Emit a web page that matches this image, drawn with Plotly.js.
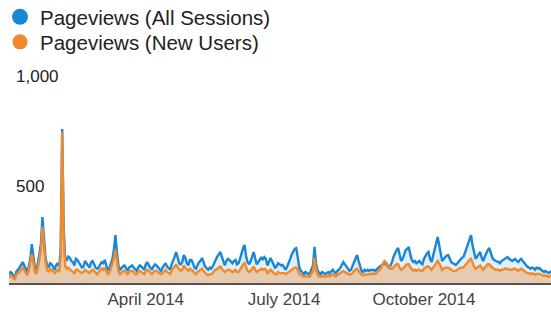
<!DOCTYPE html>
<html>
<head>
<meta charset="utf-8">
<script src="https://cdn.plot.ly/plotly-3.0.1.min.js"></script>
<style>html,body{margin:0;padding:0;background:#fff;}#chart{width:551px;height:316px;}</style>
</head>
<body>
<div id="chart"></div>
<script>
// First day of the daily series
var startDate = '2014-01-01';

// Pageviews (All Sessions), one value per day
var allSessions = [
  35,50,45,30,28,55,60, 70,85,95,80,60,50,75, 110,177,120,70,55,90,130, 180,300,210,120,80,70,90, 85,75,60,
  80,90,75,150,700,250,110, 105,120,115,100,95,80,110, 105,95,85,70,75,100,90, 80,70,95,100,85,70,65,
  70,85,95,90,105,80,60, 65,90,110,150,218,140,80, 60,70,75,80,65,55,70, 75,80,70,60,55,70,80, 75,65,60,
  85,95,80,70,60,75,85, 80,70,65,55,70,80,90, 75,65,60,85,100,120,140, 110,90,85,95,127,115,90, 80,105,
  105,90,70,65,80,95,100, 114,95,75,68,60,70,65, 75,90,110,120,130,141,120, 95,80,100,110,105,95,90, 100,105,85,
  90,110,140,160,173,120,95, 85,100,125,141,110,85,95, 110,118,105,118,110,80,95, 114,100,85,70,75,90,85, 80,82,
  70,60,75,90,110,130,145,155,159,120,70, 55,45,40,50,45,40,45, 60,80,164,90,55, 45,40,50,45,40,45,
  50,45,55,60,50,45,55, 60,70,80,95,85,75,60, 55,60,75,95,110,127,100, 70,55,50,60,55,60,55,60,58,
  60,55,65,70,75,80, 85,90,85,75,70, 80,95,120,140,150, 159, 120,100,110, 130,150,155, 164, 130,105,95, 100,90,95,
  100,90,85,110,125,135, 141, 110,95,120,150,180, 209, 170,120,100,110,120,125, 127, 110,95,90,85, 82, 90,100,110,115, 118, 140,
  160,185,200, 218, 170,130,110,120,130, 141, 115,100,120,140,150, 159, 130,115,105,100,98, 95, 90,100,105,110,115, 118, 110,105,
  100,105,110,100,95,105,110,100,90, 80,75,70,65,70,68,60,70,65,68,60, 55,50,55,48,45,50,55,48,45,50,52, 50,48,45
];

// Pageviews (New Users), one value per day
var newUsers = [
  25,35,30,20,18,40,45, 50,60,70,60,45,35,55, 85,130,95,50,40,70,105, 150,255,175,95,60,50,65, 60,55,45,
  55,60,50,120,686,200,75, 65,70,60,55,50,45,60, 60,55,50,45,50,60,55, 50,45,55,60,55,45,40,
  50,60,65,60,70,55,40, 45,65,80,110,150,100,55, 40,50,55,55,45,40,50, 55,55,50,40,40,50,55, 50,45,40,
  55,60,55,45,40,50,55, 55,50,45,40,45,55,60, 50,45,40,55,65,75,85, 70,60,55,60,80,70,60, 55,65,
  60,55,45,40,50,55,60, 65,55,45,40,35,40,40, 45,55,60,65,70,75,65, 55,50,55,60,60,55,50, 55,60,50,
  50,60,75,85,90,70,55, 50,55,65,75,60,50,55, 60,65,60,65,60,45,50, 60,55,45,40,40,50,45, 45,45,
  45,40,45,50,55,60,65,70,70,60,40, 35,30,28,32,30,28,30, 40,55,114,60,38, 30,28,32,30,28,30,
  35,30,38,40,35,30,38, 40,45,50,55,50,45,40, 38,40,45,55,60,65,55, 45,38,35,40,38,40,40,42,40,
  45,40,50,55,60,70, 90,100,95,85,75, 65,65,75,80,85, 85, 70,60,65, 75,80,85, 85, 70,60,55, 60,55,60,
  60,55,55,65,70,75, 75, 65,60,70,80,90, 100, 90,70,60,65,70,70, 70, 65,60,55,55, 55, 60,65,70,70, 70, 80,
  90,100,105, 110, 90,75,65,70,75, 80, 70,60,70,80,85, 85, 75,70,65,60,60, 60, 55,60,60,65,65, 65, 60,60,
  60,65,65,60,55,60,65,60,55, 50,45,45,40,45,42,38,42,40,42,38, 35,32,35,30,28,32,35,30,28,32,35, 32,30,28
];

var seriesNames = ['Pageviews (All Sessions)', 'Pageviews (New Users)'];
var tickDates = ['2014-04-01', '2014-07-01', '2014-10-01'];
var tickLabels = ['April 2014', 'July 2014', 'October 2014'];
var yTickVals = [500, 1000];
var yTickLabels = ['500', '1,000'];

function buildDates(start, n) {
  var out = [];
  var d0 = new Date(start + 'T00:00:00Z');
  for (var i = 0; i < n; i++) {
    var d = new Date(d0.getTime() + i * 86400000);
    out.push(d.toISOString().slice(0, 10));
  }
  return out;
}
var dates = buildDates(startDate, allSessions.length);

var blue = '#1a87d6';
var orange = '#f08a2c';

var traces = [
  {x: dates, y: allSessions, type: 'scatter', mode: 'lines', fill: 'tozeroy',
   line: {color: blue, width: 2.4, shape: 'linear'}, fillcolor: 'rgba(26,135,214,0.13)',
   showlegend: false, hoverinfo: 'skip'},
  {x: dates, y: newUsers, type: 'scatter', mode: 'lines', fill: 'tozeroy',
   line: {color: orange, width: 2.4, shape: 'linear'}, fillcolor: 'rgba(240,138,44,0.36)',
   showlegend: false, hoverinfo: 'skip'},
  {x: [null], y: [null], type: 'scatter', mode: 'markers', name: seriesNames[0], legend: 'legend',
   marker: {color: blue, size: 16, symbol: 'circle'}},
  {x: [null], y: [null], type: 'scatter', mode: 'markers', name: seriesNames[1], legend: 'legend2',
   marker: {color: orange, size: 15, symbol: 'circle'}}
];

var legendBase = {xref: 'container', yref: 'container', xanchor: 'left', yanchor: 'middle',
  font: {size: 20.5, color: '#222', family: 'Liberation Sans, Arial, sans-serif'}, bgcolor: 'rgba(0,0,0,0)', borderwidth: 0};

var layout = {
  width: 551, height: 316,
  margin: {l: 9, r: 0, t: 50, b: 33, autoexpand: false},
  paper_bgcolor: '#ffffff', plot_bgcolor: '#ffffff',
  font: {family: 'Liberation Sans, Arial, sans-serif', color: '#333'},
  showlegend: true,
  legend: Object.assign({x: 0, y: 1 - 17 / 316}, legendBase),
  legend2: Object.assign({x: 0, y: 1 - 42 / 316}, legendBase),
  xaxis: {type: 'date', range: ['2014-01-01', '2014-12-23 14:00'], tickvals: tickDates, ticktext: tickLabels,
          showgrid: false, zeroline: false, showline: true, linecolor: '#555', linewidth: 2,
          ticks: '', tickangle: 0, tickfont: {size: 17, color: '#444'}, fixedrange: true},
  yaxis: {range: [0, 1060], tickvals: yTickVals, ticktext: yTickLabels, showgrid: false, zeroline: false,
          showline: false, ticks: '', ticklabelposition: 'inside', ticklabelshift: 13, ticklabelstandoff: 4,
          tickfont: {size: 17, color: '#222'}, fixedrange: true}
};

Plotly.newPlot('chart', traces, layout, {staticPlot: true, displayModeBar: false});
</script>
</body>
</html>
